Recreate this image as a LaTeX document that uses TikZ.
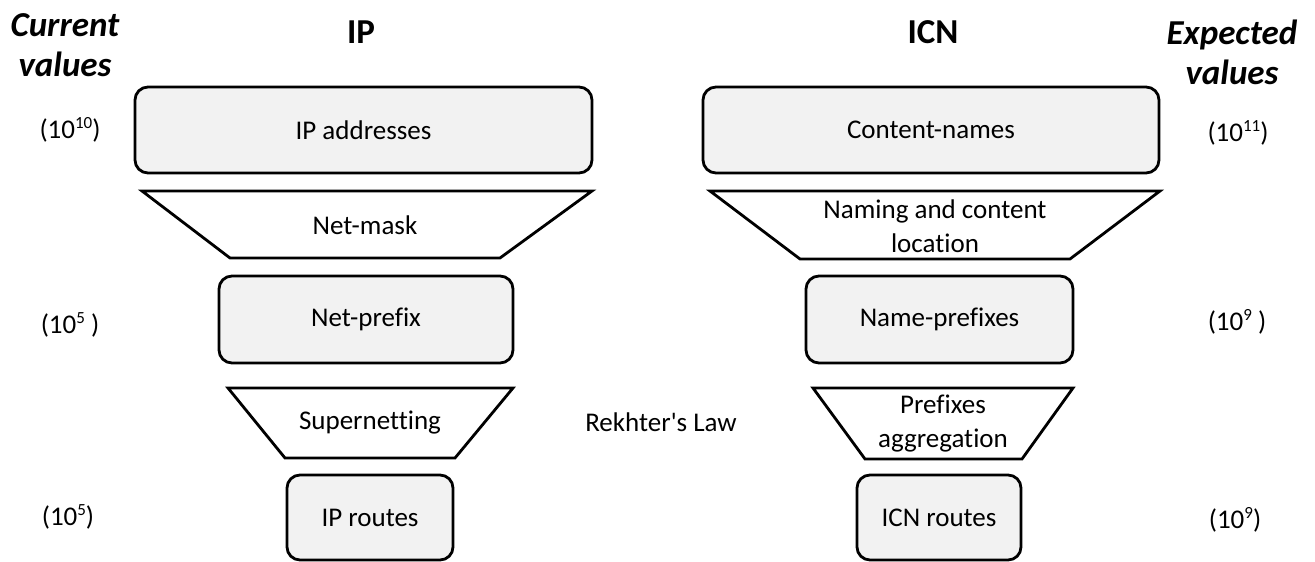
\documentclass[tikz,border=0pt]{standalone}
\usepackage{fontspec}
\setmainfont{Carlito}[Ligatures=NoCommon]
\definecolor{boxfill}{HTML}{F2F2F2}
% small raised exponent for the value labels
\newcommand\expo[1]{\raisebox{0.36em}{\fontsize{17}{17}\selectfont #1}}

\begin{document}
\begin{tikzpicture}[x=1pt,y=-1pt,
  every node/.style={font=\fontsize{27}{34}\selectfont, inner sep=0pt},
  layerbox/.style={draw, line width=2.8pt, rounded corners=13pt, fill=boxfill},
  funnel/.style={draw, line width=2.8pt, line join=miter},
  colhead/.style={font=\fontsize{35}{40}\selectfont\bfseries},
  sidehead/.style={font=\fontsize{35}{40}\selectfont\bfseries\itshape, align=center},
  value/.style={},
  twoline/.style={align=center}]

\useasboundingbox (0,0) rectangle (1315,562);

% column headings
\node[sidehead] (curhead) at (65,45) {Current\\values};
\node[colhead] (iphead) at (361,32) {IP};
\node[colhead] (icnhead) at (933,32) {ICN};
\node[sidehead] (exphead) at (1232,52) {Expected\\values};

% IP column
\node[layerbox, minimum width=457pt, minimum height=86pt] (ipaddr) at (363.5,130) {IP addresses};
\draw[funnel] (142,191) -- (592,191) -- (500,258) -- (230,258) -- cycle;
\node (netmask) at (365,225) {Net-mask};
\node[layerbox, minimum width=294pt, minimum height=87pt] (netprefix) at (366,319.5) {Net-prefix};
\draw[funnel] (228,388) -- (513,388) -- (455,458) -- (285,458) -- cycle;
\node (supernet) at (370,423) {Supernetting};
\node[layerbox, minimum width=166pt, minimum height=85pt] (iproutes) at (370,517.5) {IP routes};

% ICN column
\node[layerbox, minimum width=456pt, minimum height=86pt] (cnames) at (931,130) {Content-names};
\draw[funnel] (710,191) -- (1160,191) -- (1070,259) -- (800,259) -- cycle;
\node[twoline] (naming) at (935,226) {Naming and content\\location};
\node[layerbox, minimum width=267pt, minimum height=87pt] (nprefix) at (939.5,319.5) {Name-prefixes};
\draw[funnel] (813,388) -- (1073,388) -- (1022,459) -- (865,459) -- cycle;
\node[twoline] (aggreg) at (943,424) {Prefixes\\aggregation};
\node[layerbox, minimum width=164pt, minimum height=85pt] (icnroutes) at (939,517.5) {ICN routes};

\node (rekhter) at (661,422) {Rekhter\textquotesingle s Law};

% current values
\node[value] (vipaddr) at (70,130) {(10\expo{10})};
\node[value] (vnetprefix) at (70,325) {(10\expo{5} )};
\node[value] (viproutes) at (68,517) {(10\expo{5})};

% expected values
\node[value] (vcnames) at (1238,133) {(10\expo{11})};
\node[value] (vnprefix) at (1237,322) {(10\expo{9} )};
\node[value] (vicnroutes) at (1235,520) {(10\expo{9})};
\end{tikzpicture}
\end{document}
